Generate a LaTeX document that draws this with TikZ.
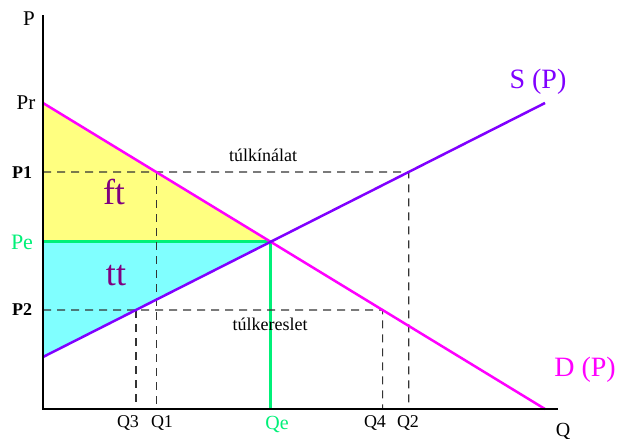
\documentclass[tikz,border=0pt]{standalone}
\usepackage{fontspec}
\setmainfont{Liberation Serif}
\usepackage{tikz}
\usepackage{xcolor}
\definecolor{dcol}{RGB}{255,0,255}
\definecolor{scol}{RGB}{128,0,255}
\definecolor{ecol}{RGB}{0,240,120}
\definecolor{ftfill}{RGB}{255,255,128}
\definecolor{ttfill}{RGB}{128,255,255}
\definecolor{areacol}{RGB}{128,0,128}
\newcommand{\fs}[1]{\fontsize{#1}{#1}\selectfont}

\begin{document}
\begin{tikzpicture}[x=1pt,y=-1pt,
    axis/.style={line width=2.5pt},
    guide/.style={dash pattern=on 8pt off 6pt,line width=1.2pt,black!80},
    curve/.style={line width=2.5pt},
    lbl/.style={inner sep=0pt}]
    \useasboundingbox (0,0) rectangle (619,439);
    % points of the two lines
    \coordinate (O) at (43,409);
    \coordinate (Ytop) at (43,15);
    \coordinate (Xend) at (558,409);
    \coordinate (Dtop) at (43,103);
    \coordinate (Dend) at (545,409);
    \coordinate (Sbot) at (43,357);
    \coordinate (Send) at (545,103);
    \coordinate (E) at (intersection of Dtop--Dend and Sbot--Send);
    \coordinate (Pe) at (O |- E);
    \coordinate (Qe) at (O -| E);
    \coordinate (P1) at (43,172);
    \coordinate (P1r) at (500,172);
    \coordinate (P2) at (43,310);
    \coordinate (P2r) at (500,310);
    \coordinate (A1) at (intersection of Dtop--Dend and P1--P1r);
    \coordinate (B1) at (intersection of Sbot--Send and P1--P1r);
    \coordinate (A2) at (intersection of Sbot--Send and P2--P2r);
    \coordinate (B2) at (intersection of Dtop--Dend and P2--P2r);
    % surplus areas
    \fill[ftfill] (Dtop)--(E)--(Pe)--cycle;
    \fill[ttfill] (Pe)--(E)--(Sbot)--cycle;
    % equilibrium
    \draw[ecol,line width=3pt] (Pe)--(E)--(Qe);
    % dashed guides
    \draw[guide] (P1)--(B1)--(B1 |- O);
    \draw[guide] (A1)--(A1 |- O);
    \draw[guide] (P2)--(B2)--(B2 |- O);
    \draw[guide] (A2)--(A2 |- O);
    % curves
    \draw[curve,dcol] (Dtop)--(Dend);
    \draw[curve,scol] (Sbot)--(Send);
    % axes
    \draw[axis] (Ytop)--(O)--(Xend);
    % labels
    \node[lbl,font=\fs{21}] (lP) at (29,19) {P};
    \node[lbl,font=\fs{21}] (lPr) at (26,103) {Pr};
    \node[lbl,font=\fs{18}\bfseries] (lP1) at (22,173) {P1};
    \node[lbl,font=\fs{22},text=ecol] (lPe) at (22,242) {Pe};
    \node[lbl,font=\fs{18}\bfseries] (lP2) at (22,310) {P2};
    \node[lbl,font=\fs{18}] (lQ3) at (128,423) {Q3};
    \node[lbl,font=\fs{18}] (lQ1) at (162,423) {Q1};
    \node[lbl,font=\fs{20},text=ecol] (lQe) at (277,424) {Qe};
    \node[lbl,font=\fs{18}] (lQ4) at (375,423) {Q4};
    \node[lbl,font=\fs{18}] (lQ2) at (408,423) {Q2};
    \node[lbl,font=\fs{20}] (lQ) at (563,431) {Q};
    \node[lbl,font=\fs{28},text=scol] (lS) at (538,82) {S (P)};
    \node[lbl,font=\fs{28},text=dcol] (lD) at (585,370) {D (P)};
    \node[lbl,font=\fs{36},text=areacol] (ft) at (114,192) {ft};
    \node[lbl,font=\fs{36},text=areacol] (tt) at (116,276) {tt};
    \node[lbl,font=\fs{18}] (tki) at (263,155) {túlkínálat};
    \node[lbl,font=\fs{18}] (tke) at (270,324) {túlkereslet};
\end{tikzpicture}
\end{document}
